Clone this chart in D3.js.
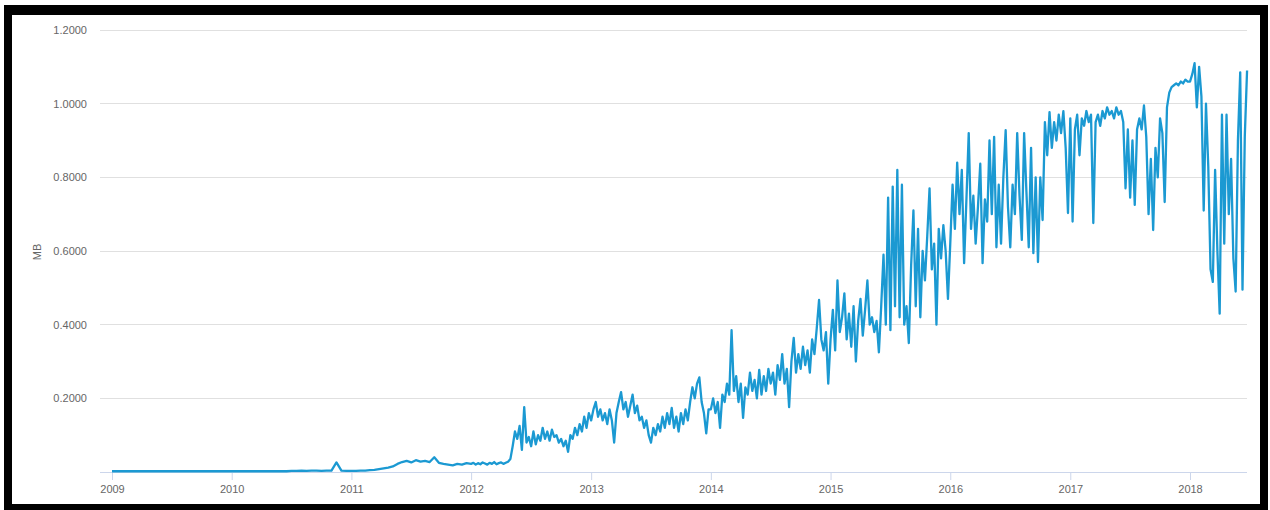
<!DOCTYPE html>
<html>
<head>
<meta charset="utf-8">
<script src="https://cdn.jsdelivr.net/npm/d3@7"></script>
<style>
  html, body { margin: 0; padding: 0; background: #fff; }
  svg { display: block; }
</style>
</head>
<body>
<svg id="chart" width="1270" height="510"></svg>
<script>
// ---------- DATA (MB per point, evenly spaced inside each calendar year) ----------
const years = [2009, 2010, 2011, 2012, 2013, 2014, 2015, 2016, 2017, 2018];
const lastDate = "2018-06-24";

const mb2009 = [0.002,0.002,0.002,0.002,0.002,0.002,0.002,0.002,0.002,0.002,0.002,0.002];
const mb2010 = [0.002,0.002,0.002,0.002,0.002,0.002,0.002,0.002,0.002,0.002,0.002,0.002,
                0.003,0.003,0.004,0.003,0.004,0.004,0.003,0.004,0.004,0.026,0.004,0.003];
const mb2011 = [0.003,0.003,0.004,0.004,0.005,0.006,0.008,0.010,0.012,0.015,0.022,0.027,0.030,
                0.026,0.032,0.028,0.030,0.027,0.040,0.025,0.022,0.020,0.018,0.022,0.020,0.024];
const mb2012 = [0.022,0.025,0.020,0.024,0.021,0.026,0.023,0.020,0.025,0.022,0.027,0.021,0.024,
                0.026,0.022,0.025,0.028,0.035,0.070,0.110,0.090,0.125,0.060,0.176,0.080,0.095,
                0.070,0.110,0.075,0.100,0.085,0.120,0.090,0.110,0.085,0.115,0.095,0.100,0.080,
                0.090,0.070,0.085,0.055,0.100,0.090,0.120,0.100,0.130,0.110,0.150,0.120,0.160];
const mb2013 = [0.140,0.170,0.190,0.150,0.170,0.140,0.160,0.130,0.170,0.140,0.080,0.160,0.190,
                0.217,0.170,0.190,0.150,0.180,0.210,0.160,0.180,0.140,0.150,0.120,0.140,0.100,
                0.080,0.120,0.100,0.130,0.110,0.150,0.120,0.160,0.130,0.174,0.120,0.150,0.110,
                0.160,0.130,0.170,0.140,0.190,0.230,0.200,0.240,0.257,0.190,0.160,0.105,0.170];
const mb2014 = [0.170,0.200,0.160,0.190,0.120,0.210,0.190,0.240,0.210,0.385,0.220,0.260,0.190,
                0.240,0.147,0.230,0.210,0.270,0.220,0.250,0.200,0.277,0.210,0.260,0.220,0.280,
                0.240,0.270,0.210,0.290,0.250,0.320,0.240,0.280,0.176,0.300,0.364,0.270,0.320,
                0.280,0.340,0.290,0.330,0.270,0.360,0.320,0.390,0.467,0.360,0.330,0.380,0.240];
const mb2015 = [0.360,0.440,0.330,0.520,0.380,0.420,0.485,0.360,0.430,0.340,0.450,0.300,0.410,
                0.470,0.370,0.440,0.520,0.400,0.420,0.380,0.410,0.325,0.450,0.590,0.400,0.745,
                0.385,0.775,0.450,0.820,0.420,0.780,0.400,0.450,0.350,0.560,0.710,0.450,0.660,
                0.420,0.600,0.520,0.640,0.770,0.550,0.620,0.400,0.660,0.580,0.670,0.600,0.470];
const mb2016 = [0.620,0.780,0.660,0.840,0.700,0.820,0.567,0.740,0.920,0.660,0.750,0.620,0.720,
                0.837,0.567,0.740,0.680,0.900,0.700,0.910,0.610,0.780,0.620,0.800,0.928,0.720,
                0.610,0.780,0.700,0.920,0.750,0.630,0.920,0.760,0.610,0.880,0.594,0.800,0.570,
                0.800,0.684,0.950,0.860,0.977,0.880,0.950,0.900,0.970,0.920,0.980,0.880,0.703];
const mb2017 = [0.960,0.680,0.930,0.970,0.860,0.960,0.940,0.980,0.950,0.970,0.676,0.950,0.970,
                0.940,0.980,0.960,0.990,0.970,0.980,0.960,0.990,0.970,0.980,0.950,0.770,0.930,
                0.745,0.900,0.725,0.930,0.960,0.930,0.995,0.910,0.700,0.850,0.657,0.880,0.800,
                0.960,0.920,0.733,0.990,1.030,1.045,1.050,1.055,1.050,1.060,1.055,1.065,1.060];
const mb2018 = [1.060,1.080,1.110,0.990,1.100,1.020,0.710,1.000,0.830,0.550,0.516,0.820,0.600,
                0.430,0.970,0.620,0.970,0.700,0.850,0.580,0.490,0.900,1.085,0.495,0.910,1.090];

const seriesByYear = [mb2009, mb2010, mb2011, mb2012, mb2013, mb2014, mb2015, mb2016, mb2017, mb2018];

const yTicks = [0.2, 0.4, 0.6, 0.8, 1.0, 1.2];
const yTitle = "MB";

// ---------- BUILD POINTS ----------
const parse = d3.utcParse("%Y-%m-%d");
const points = [];
years.forEach((yr, k) => {
  const vals = seriesByYear[k];
  const start = Date.UTC(yr, 0, 1);
  const isLast = k === years.length - 1;
  const end = isLast ? parse(lastDate).getTime() : Date.UTC(yr + 1, 0, 1);
  const step = (end - start) / (isLast ? vals.length - 1 : vals.length);
  vals.forEach((v, i) => points.push({ date: new Date(start + i * step), value: v }));
});

// ---------- LAYOUT ----------
const svg = d3.select("#chart");
const W = 1270, H = 510;
const plotLeft = 100, plotRight = 1247, plotTop = 30, plotBottom = 472;

// frame
svg.append("rect").attr("x", 0).attr("y", 0).attr("width", W).attr("height", H).attr("fill", "#fff");
svg.append("rect").attr("x", 4).attr("y", 5).attr("width", 1264).attr("height", 505).attr("fill", "#000");
svg.append("rect").attr("x", 12).attr("y", 15).attr("width", 1248).attr("height", 489).attr("fill", "#fff");

const x = d3.scaleUtc()
  .domain([new Date(Date.UTC(2009, 0, 1)), new Date(Date.UTC(2018, 0, 1))])
  .range([112, 1190]);
const y = d3.scaleLinear().domain([0, 1.2]).range([plotBottom, plotTop]);

// gridlines
svg.append("g").selectAll("line").data(yTicks).join("line")
  .attr("x1", plotLeft).attr("x2", plotRight)
  .attr("y1", d => y(d)).attr("y2", d => y(d))
  .attr("stroke", "#e0e0e0").attr("stroke-width", 1).attr("shape-rendering", "crispEdges");

// y axis labels
const yAxis = d3.axisLeft(y).tickValues(yTicks).tickFormat(d3.format(".4f")).tickSize(0).tickPadding(13);
const gy = svg.append("g").attr("transform", `translate(${plotLeft},0)`).call(yAxis);
gy.select(".domain").remove();
gy.selectAll("text").attr("fill", "#666").style("font-family", "'Liberation Sans', Arial, sans-serif").style("font-size", "11px");

// y title
svg.append("text")
  .attr("transform", `translate(41,252) rotate(-90)`)
  .attr("text-anchor", "middle")
  .attr("fill", "#666")
  .style("font-family", "'Liberation Sans', Arial, sans-serif")
  .style("font-size", "11px")
  .text(yTitle);

// x axis
const xAxis = d3.axisBottom(x).ticks(d3.utcYear.every(1)).tickFormat(d3.utcFormat("%Y")).tickSize(8).tickPadding(5);
const gx = svg.append("g").attr("transform", `translate(0,${plotBottom})`).call(xAxis);
gx.select(".domain").remove();
gx.selectAll("line").attr("stroke", "#ccd6eb");
gx.selectAll("text").attr("fill", "#666").style("font-family", "'Liberation Sans', Arial, sans-serif").style("font-size", "11px");
svg.append("line")
  .attr("x1", plotLeft).attr("x2", plotRight)
  .attr("y1", plotBottom + 0.5).attr("y2", plotBottom + 0.5)
  .attr("stroke", "#ccd6eb").attr("stroke-width", 1);

// series line
const line = d3.line().x(d => x(d.date)).y(d => y(d.value));
svg.append("path")
  .datum(points)
  .attr("fill", "none")
  .attr("stroke", "#1b99d2")
  .attr("stroke-width", 2.3)
  .attr("stroke-linejoin", "round")
  .attr("d", line);
</script>
</body>
</html>
